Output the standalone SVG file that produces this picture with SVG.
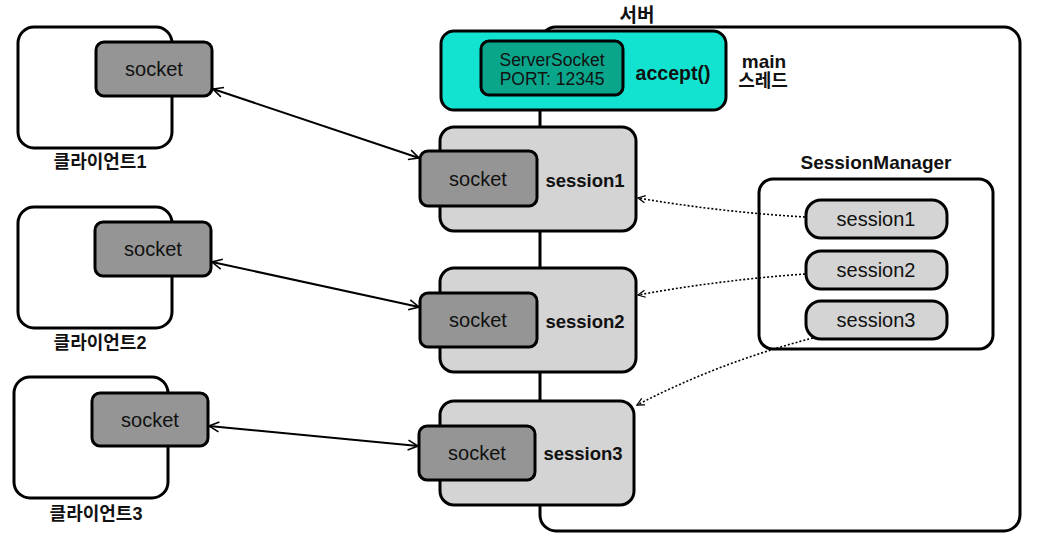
<svg xmlns="http://www.w3.org/2000/svg" width="1038" height="552" viewBox="0 0 1038 552">
<defs>
<marker id="arr" viewBox="0 0 12 12" refX="11" refY="6" markerWidth="12" markerHeight="12" markerUnits="userSpaceOnUse" orient="auto-start-reverse">
<path d="M1,1 L11,6 L1,11" fill="none" stroke="#000" stroke-width="1.6"/>
</marker>
<marker id="arrs" viewBox="0 0 10 10" refX="9" refY="5" markerWidth="9" markerHeight="9" markerUnits="userSpaceOnUse" orient="auto">
<path d="M1,1 L9,5 L1,9" fill="none" stroke="#000" stroke-width="1.4"/>
</marker>
</defs>
<style>
text{font-family:"Liberation Sans","Noto Sans CJK KR",sans-serif;fill:#111;text-anchor:middle;dominant-baseline:central}
.b{font-weight:bold}
.s{font-size:20px}
.sb{font-size:18.5px;font-weight:bold}
.k{font-size:18px;font-weight:bold}
.box{stroke:#000;stroke-width:3}
.client{fill:#fff}
.sock{fill:#959595}
.sess{fill:#d4d4d4}
.conn{stroke:#000;stroke-width:2;fill:none}
.dot{stroke:#000;stroke-width:1.6;fill:none;stroke-dasharray:2 2}
</style>
<g id="server">
<rect class="box" x="540" y="27" width="480" height="504" rx="16" fill="#fff"/>
<text class="b" x="637" y="15" font-size="19">서버</text>
</g>
<g id="main-thread">
<rect class="box" x="441" y="31" width="285" height="79" rx="13" fill="#12e3d0"/>
<rect class="box" x="481" y="41" width="142" height="54" rx="8" fill="#0aa68c"/>
<text x="552" y="60" font-size="17.5">ServerSocket</text>
<text x="552" y="79" font-size="17.5">PORT: 12345</text>
<text class="b" x="673" y="73" font-size="19.5">accept()</text>
<text class="b" x="764" y="61" font-size="19">main</text>
<text class="k" x="763" y="81">스레드</text>
</g>
<g id="client1">
<rect class="box client" x="18" y="27" width="154" height="121" rx="16"/>
<rect class="box sock" x="96" y="42" width="116" height="54" rx="8"/>
<text class="s" x="154" y="69">socket</text>
<text class="k" x="100" y="162">클라이언트1</text>
</g>
<g id="client2">
<rect class="box client" x="18" y="207" width="154" height="121" rx="16"/>
<rect class="box sock" x="95" y="222" width="116" height="54" rx="8"/>
<text class="s" x="153" y="249">socket</text>
<text class="k" x="100" y="343">클라이언트2</text>
</g>
<g id="client3">
<rect class="box client" x="14" y="377" width="154" height="121" rx="16"/>
<rect class="box sock" x="92" y="393" width="116" height="53" rx="8"/>
<text class="s" x="150" y="420">socket</text>
<text class="k" x="96" y="514">클라이언트3</text>
</g>
<g id="session1">
<rect class="box sess" x="440" y="127" width="196" height="104" rx="14"/>
<rect class="box sock" x="420" y="151" width="117" height="55" rx="8"/>
<text class="s" x="478" y="179">socket</text>
<text class="sb" x="585" y="180">session1</text>
</g>
<g id="session2">
<rect class="box sess" x="440" y="268" width="196" height="104" rx="14"/>
<rect class="box sock" x="420" y="293" width="117" height="54" rx="8"/>
<text class="s" x="478" y="320">socket</text>
<text class="sb" x="585" y="321">session2</text>
</g>
<g id="session3">
<rect class="box sess" x="440" y="401" width="194" height="104" rx="14"/>
<rect class="box sock" x="419" y="426" width="116" height="54" rx="8"/>
<text class="s" x="477" y="453">socket</text>
<text class="sb" x="583" y="453">session3</text>
</g>
<g id="session-manager">
<rect class="box" x="759" y="179" width="234" height="170" rx="14" fill="#fff"/>
<text class="b" x="876" y="162" font-size="19">SessionManager</text>
<rect class="box sess" x="806" y="200" width="141" height="38" rx="15"/>
<text class="s" x="876" y="219">session1</text>
<rect class="box sess" x="806" y="251" width="141" height="38" rx="15"/>
<text class="s" x="876" y="270">session2</text>
<rect class="box sess" x="806" y="301" width="141" height="38" rx="15"/>
<text class="s" x="876" y="320">session3</text>
</g>
<g id="connectors">
<line class="conn" x1="213" y1="89" x2="419" y2="158" marker-start="url(#arr)" marker-end="url(#arr)"/>
<line class="conn" x1="212" y1="262" x2="419" y2="307" marker-start="url(#arr)" marker-end="url(#arr)"/>
<line class="conn" x1="209" y1="426" x2="418" y2="446" marker-start="url(#arr)" marker-end="url(#arr)"/>
<path class="dot" d="M805,217 Q720,212 638,198" marker-end="url(#arrs)"/>
<path class="dot" d="M805,274 Q720,280 638,295" marker-end="url(#arrs)"/>
<path class="dot" d="M813,338 Q720,362 637,405" marker-end="url(#arrs)"/>
</g>
</svg>
